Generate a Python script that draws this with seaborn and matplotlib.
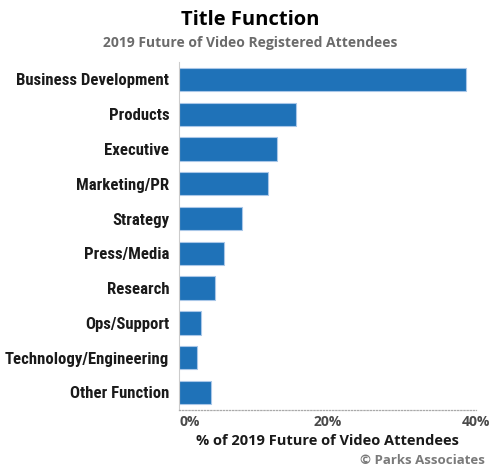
import numpy as np
import pandas as pd
import seaborn as sns
import matplotlib.pyplot as plt

# Data
functions = [
    "Business Development",
    "Products",
    "Executive",
    "Marketing/PR",
    "Strategy",
    "Press/Media",
    "Research",
    "Ops/Support",
    "Technology/Engineering",
    "Other Function",
]
shares = [38.7, 15.7, 13.2, 12.0, 8.5, 6.0, 4.8, 2.9, 2.4, 4.3]
x_ticks = [0, 20, 40]
x_tick_labels = ["0%", "20%", "40%"]

BAR = "#1F72B8"
BAR_EDGE = "#A9C7E8"
LABEL = "#1a1a1a"
TICK = "#4a4a4a"
SUB = "#6b6b6b"

sns.set_theme(style="white")
plt.rcParams["font.family"] = ["Open Sans", "DejaVu Sans"]

df = pd.DataFrame({"function": functions, "share": shares})

fig = plt.figure(figsize=(5, 4.7), dpi=100)
ax = fig.add_axes([0.358, 0.128, 0.594, 0.740])

sns.barplot(
    data=df,
    x="share",
    y="function",
    order=functions,
    color=BAR,
    edgecolor=BAR_EDGE,
    linewidth=0.8,
    width=0.67,
    saturation=1,
    ax=ax,
)

ax.set_xlim(0, 40)
ax.set_ylim(9.5, -0.5)
ax.set_xticks(x_ticks)
ax.set_xticklabels(x_tick_labels, fontsize=10, fontweight="bold", color=TICK)
ax.get_xticklabels()[0].set_ha("left")
ax.tick_params(axis="x", length=0, pad=4)
ax.tick_params(axis="y", length=0, pad=7)
for lbl in ax.get_yticklabels():
    lbl.set_fontsize(12.1)
    lbl.set_fontweight("bold")
    lbl.set_color(LABEL)
    lbl.set_family(["Roboto Condensed", "Roboto", "DejaVu Sans"])

ax.set_ylabel("")
ax.set_xlabel("% of 2019 Future of Video Attendees", fontsize=10.5,
              fontweight="bold", color=LABEL, labelpad=3)

for side in ("top", "right"):
    ax.spines[side].set_visible(False)
ax.spines["left"].set_color("#cccccc")
ax.spines["left"].set_linewidth(0.8)
ax.spines["bottom"].set_color("#aaaaaa")
ax.spines["bottom"].set_linestyle((0, (1, 1.5)))
ax.spines["bottom"].set_linewidth(0.9)

fig.text(0.5, 0.958, "Title Function", ha="center", va="center",
         fontsize=14.5, fontweight="bold", color="#000000")
fig.text(0.5, 0.908, "2019 Future of Video Registered Attendees", ha="center",
         va="center", fontsize=10, fontweight="bold", color=SUB)
fig.text(0.97, 0.021, "\u00a9 Parks Associates", ha="right", va="center",
         fontsize=9.5, fontweight="bold", color="#7a7a7a")

fig.savefig("out.png", dpi=100)
